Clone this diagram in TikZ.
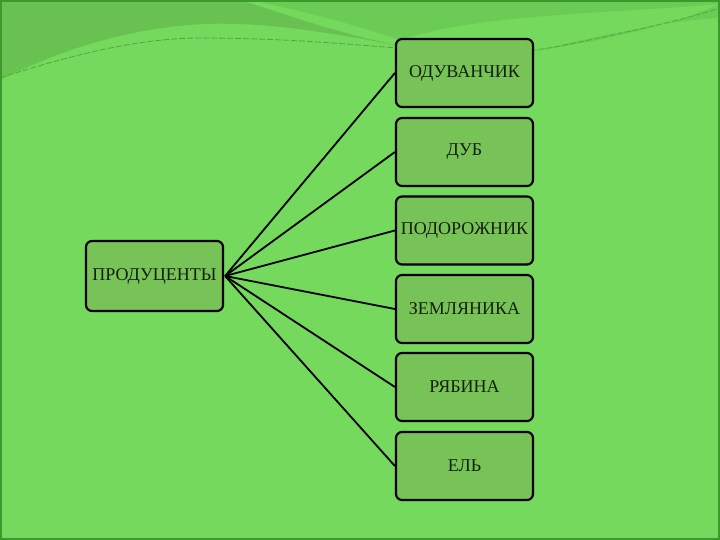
\documentclass[tikz,border=0pt]{standalone}
\usepackage{fontspec}
\setmainfont{Liberation Serif}
\definecolor{bggreen}{HTML}{74D95D}
\definecolor{bandA}{HTML}{68C151}
\definecolor{bandB}{HTML}{6CCB55}
\definecolor{swline}{HTML}{52A83F}
\definecolor{frame}{HTML}{3A9A2C}
\definecolor{boxfill}{HTML}{77C358}
\definecolor{txt}{HTML}{14200C}
\begin{document}
\begin{tikzpicture}[x=1pt,y=-1pt,
  item/.style={draw=black, line width=2.2pt, rounded corners=6pt, fill=boxfill,
    minimum width=137pt, minimum height=68pt, inner sep=0pt, text=txt,
    font=\fontsize{18}{21}\selectfont},
  link/.style={draw=black, line width=1.8pt}]
% background
\fill[bggreen] (0,0) rectangle (720,540);
\useasboundingbox (0,0) rectangle (720,540);
% top decoration
\fill[bandA] (0,0) -- (240,0) .. controls (280,12) and (330,32) .. (410,48)
  .. controls (320,30) and (260,22) .. (205,24)
  .. controls (120,28) and (50,55) .. (0,80) -- cycle;
\fill[bandB] (720,4) .. controls (660,30) and (590,42) .. (530,52)
  .. controls (600,36) and (670,20) .. (720,18) -- cycle;
\fill[bandB] (250,0) -- (720,0) -- (720,4) .. controls (600,14) and (480,14) .. (400,40)
  .. controls (340,20) and (290,8) .. (250,0) -- cycle;
\draw[swline, line width=0.8pt, dash pattern=on 6pt off 2pt] (0,78) .. controls (70,55) and (140,38) .. (200,38)
  .. controls (280,38) and (350,44) .. (420,50)
  .. controls (470,54) and (520,54) .. (560,46)
  .. controls (630,32) and (690,18) .. (720,8);
\draw[frame, line width=2pt] (1,1) rectangle (719,539);
% nodes
\node[item, minimum height=70pt] (prod) at (154.5,276) {ПРОДУЦЕНТЫ};
\node[item] (n1) at (464.5,73) {ОДУВАНЧИК};
\node[item] (n2) at (464.5,152) {ДУБ};
\node[item] (n3) at (464.5,230.5) {ПОДОРОЖНИК};
\node[item] (n4) at (464.5,309) {ЗЕМЛЯНИКА};
\node[item] (n5) at (464.5,387) {РЯБИНА};
\node[item] (n6) at (464.5,466) {ЕЛЬ};
% connectors
\coordinate (hub) at ([xshift=1pt]prod.east);
\foreach \n in {n1,n2,n3,n4,n5,n6}
  \draw[link] (hub) -- (\n.west);
\end{tikzpicture}
\end{document}
